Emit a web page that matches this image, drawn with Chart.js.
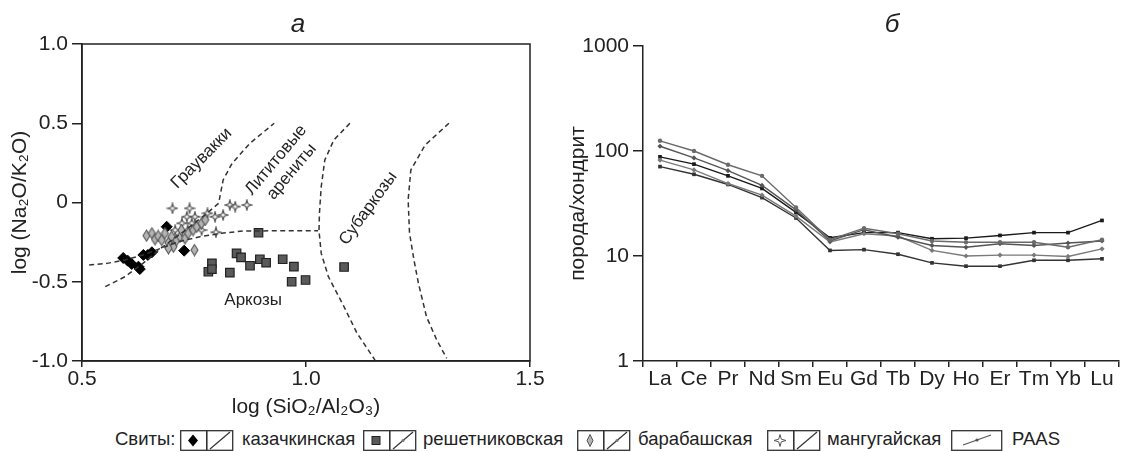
<!DOCTYPE html>
<html>
<head>
<meta charset="utf-8">
<script src="https://cdn.jsdelivr.net/npm/chart.js@4.4.0/dist/chart.umd.min.js"></script>
<style>
body { margin: 0; background: #fff; font-family: "Liberation Sans", Arial, sans-serif; color: #222; }
#wrap { position: relative; width: 1124px; height: 452px; overflow: hidden; }
.panel { position: absolute; top: 0; height: 425px; }
.lg { position: absolute; top: 429px; font-size: 18.5px; line-height: 20px; white-space: nowrap; }
.lgbox { position: absolute; top: 430px; }
</style>
</head>
<body>
<div id="wrap">
  <div class="panel" style="left:0;width:560px"><canvas id="chartA"></canvas></div>
  <div class="panel" style="left:560px;width:564px"><canvas id="chartB"></canvas></div>
  <div id="legend"></div>
</div>
<script>
// --- panel a: log(SiO2/Al2O3) vs log(Na2O/K2O) ---
const kazX = [0.592, 0.602, 0.611, 0.626, 0.629, 0.637, 0.647, 0.656, 0.689, 0.728];
const kazY = [-0.350, -0.367, -0.388, -0.405, -0.420, -0.331, -0.331, -0.314, -0.153, -0.304];

const reshX = [0.782, 0.790, 0.790, 0.830, 0.845, 0.855, 0.875, 0.897, 0.911, 0.948, 0.973, 0.968, 0.999, 0.894, 1.085];
const reshY = [-0.437, -0.384, -0.421, -0.443, -0.321, -0.346, -0.399, -0.358, -0.380, -0.358, -0.405, -0.500, -0.489, -0.191, -0.407];

const barX = [0.644, 0.656, 0.663, 0.670, 0.678, 0.685, 0.693, 0.700, 0.704, 0.711, 0.719, 0.730, 0.737, 0.748, 0.756, 0.767, 0.751, 0.693, 0.722, 0.775];
const barY = [-0.209, -0.194, -0.232, -0.211, -0.237, -0.194, -0.254, -0.216, -0.279, -0.237, -0.216, -0.226, -0.194, -0.174, -0.153, -0.131, -0.300, -0.289, -0.174, -0.110];

const mangX = [0.702, 0.740, 0.734, 0.723, 0.745, 0.708, 0.736, 0.780, 0.797, 0.815, 0.830, 0.842, 0.868, 0.799, 0.767, 0.752];
const mangY = [-0.037, -0.037, -0.090, -0.131, -0.131, -0.174, -0.174, -0.068, -0.090, -0.079, -0.016, -0.026, -0.016, -0.188, -0.174, -0.090];

// field boundaries (dashed)
const bound1X = [0.552, 0.596, 0.636, 0.676, 0.731, 0.779, 0.805, 0.810, 0.815, 0.835, 0.875, 0.929];
const bound1Y = [-0.531, -0.468, -0.384, -0.289, -0.174, -0.068, -0.005, 0.068, 0.142, 0.247, 0.374, 0.500];
const bound2X = [0.516, 0.556, 0.596, 0.636, 0.676, 0.716, 0.763, 0.811, 0.859, 0.955, 1.027];
const bound2Y = [-0.394, -0.384, -0.363, -0.331, -0.289, -0.247, -0.216, -0.194, -0.180, -0.178, -0.178];
const bound3X = [1.098, 1.062, 1.042, 1.034, 1.030, 1.029, 1.034, 1.050, 1.083, 1.114, 1.154];
const bound3Y = [0.500, 0.394, 0.268, 0.100, -0.068, -0.178, -0.321, -0.468, -0.647, -0.825, -0.994];
const bound4X = [1.319, 1.266, 1.234, 1.228, 1.231, 1.241, 1.251, 1.269, 1.292, 1.314];
const bound4Y = [0.500, 0.363, 0.205, 0.016, -0.192, -0.363, -0.510, -0.721, -0.868, -0.983];

// field names: text, x, y, angle
const fieldLabels = [
  ['Граувакки', 0.767, 0.279, -45],
  ['Лититовые', 0.933, 0.268, -50],
  ['арениты', 0.968, 0.194, -50],
  ['Субаркозы', 1.139, -0.037, -54],
  ['Аркозы', 0.882, -0.615, 0]
];

// --- panel b: REE / chondrite ---
const ree = ['La', 'Ce', 'Pr', 'Nd', 'Sm', 'Eu', 'Gd', 'Tb', 'Dy', 'Ho', 'Er', 'Tm', 'Yb', 'Lu'];
const kazRee  = [88, 75, 58, 44, 26, 14.9, 16.7, 16.7, 14.6, 14.8, 15.7, 16.7, 16.7, 21.8];
const reshRee = [71, 60, 48, 36, 23, 11.3, 11.5, 10.4, 8.6, 8.0, 8.0, 9.1, 9.1, 9.4];
const barRee  = [82, 66, 49, 38, 24, 13.6, 16.3, 15.5, 11.3, 10.0, 10.2, 10.2, 9.9, 11.7];
const mangRee = [111, 86, 65, 47, 27.5, 13.9, 17.8, 15.1, 12.6, 12.1, 13.1, 12.6, 13.3, 13.9];
const paasRee = [125, 100, 74, 58, 29, 14.3, 18.4, 16.3, 13.9, 13.5, 13.5, 13.5, 12.1, 14.3];
const logTicks = [1, 10, 100, 1000];

const FONT = '"Liberation Sans", Arial, sans-serif';
const INK = '#222';

const pts = (xs, ys) => xs.map((x, i) => ({ x, y: ys[i] }));

// small marker images
function sparkle(size, fill, stroke) {
    const c = document.createElement('canvas');
    c.width = c.height = size;
    const g = c.getContext('2d');
    const m = size / 2, r = m - 1, ri = r * 0.32;
    g.beginPath();
    for (let i = 0; i < 8; i++) {
        const a = i * Math.PI / 4 - Math.PI / 2;
        const rr = i % 2 ? ri : r;
        g.lineTo(m + rr * Math.cos(a), m + rr * Math.sin(a));
    }
    g.closePath();
    g.fillStyle = fill; g.fill();
    g.strokeStyle = stroke; g.lineWidth = 1.2; g.stroke();
    return c;
}
function tallDiamond(w, h, fill, stroke) {
    const c = document.createElement('canvas');
    c.width = w; c.height = h;
    const g = c.getContext('2d');
    g.beginPath();
    g.moveTo(w / 2, 1); g.lineTo(w - 1, h / 2); g.lineTo(w / 2, h - 1); g.lineTo(1, h / 2);
    g.closePath();
    g.fillStyle = fill; g.fill();
    g.strokeStyle = stroke; g.lineWidth = 1.1; g.stroke();
    return c;
}
const starImg = sparkle(12, '#fff', '#555');
const diaImg = tallDiamond(9, 13, '#b4b4b4', '#555');

function boundary(xs, ys) {
    return {
        data: pts(xs, ys), showLine: true, pointRadius: 0, borderColor: '#333',
        borderWidth: 1.5, borderDash: [5, 3.5], fill: false
    };
}

const frameA = {
    id: 'frameA',
    afterDraw(chart) {
        const { ctx, chartArea: a, scales } = chart;
        ctx.save();
        ctx.strokeStyle = INK;
        ctx.lineWidth = 1.5;
        ctx.strokeRect(a.left, a.top, a.right - a.left, a.bottom - a.top);
        ctx.fillStyle = INK;
        ctx.font = '17px ' + FONT;
        ctx.textAlign = 'center';
        ctx.textBaseline = 'middle';
        fieldLabels.forEach(([t, x, y, ang]) => {
            ctx.save();
            ctx.translate(scales.x.getPixelForValue(x), scales.y.getPixelForValue(y));
            ctx.rotate(ang * Math.PI / 180);
            ctx.fillText(t, 0, 0);
            ctx.restore();
        });
        ctx.font = 'italic 26px ' + FONT;
        ctx.fillText('а', 298, 25);
        ctx.restore();
    }
};

const titleB = {
    id: 'titleB',
    afterDraw(chart) {
        const ctx = chart.ctx;
        ctx.save();
        ctx.fillStyle = INK;
        ctx.font = 'italic 26px ' + FONT;
        ctx.textAlign = 'center';
        ctx.textBaseline = 'middle';
        ctx.fillText('б', 332, 25);
        ctx.restore();
    }
};

const tickFont = { family: FONT, size: 21 };
const titleFont = { family: FONT, size: 21 };

new Chart(document.getElementById('chartA'), {
    type: 'scatter',
    data: {
        datasets: [
            boundary(bound1X, bound1Y),
            boundary(bound2X, bound2Y),
            boundary(bound3X, bound3Y),
            boundary(bound4X, bound4Y),
            { label: 'барабашская', data: pts(barX, barY), pointStyle: diaImg },
            { label: 'мангугайская', data: pts(mangX, mangY), pointStyle: starImg },
            { label: 'казачкинская', data: pts(kazX, kazY), pointStyle: 'rectRot', pointRadius: 5.5,
              backgroundColor: '#000', borderColor: '#000', borderWidth: 1 },
            { label: 'решетниковская', data: pts(reshX, reshY), pointStyle: 'rect', pointRadius: 6,
              backgroundColor: '#5a5a5a', borderColor: '#222', borderWidth: 1.2 }
        ]
    },
    options: {
        animation: false,
        responsive: true,
        maintainAspectRatio: false,
        layout: { padding: { top: 44, right: 30, left: 0, bottom: 0 } },
        plugins: { legend: { display: false }, tooltip: { enabled: false } },
        scales: {
            x: {
                type: 'linear', min: 0.5, max: 1.5,
                afterFit: s => { s.height = 64; },
                ticks: { stepSize: 0.5, font: tickFont, color: INK, padding: 0, maxRotation: 0,
                         callback: v => v.toFixed(1) },
                grid: { drawOnChartArea: false, tickLength: 6, color: INK, lineWidth: 1.5 },
                border: { color: INK, width: 1.5 },
                title: { display: true, text: 'log (SiO₂/Al₂O₃)', font: titleFont, color: INK,
                         padding: { top: 0, bottom: 5 } }
            },
            y: {
                type: 'linear', min: -1, max: 1,
                afterFit: s => { s.width = 82; },
                ticks: { stepSize: 0.5, font: tickFont, color: INK, padding: 4,
                         callback: v => (v === 0 ? '0' : v.toFixed(1)) },
                grid: { drawOnChartArea: false, tickLength: 10, color: INK, lineWidth: 1.5 },
                border: { color: INK, width: 1.5 },
                title: { display: true, text: 'log (Na₂O/K₂O)', font: titleFont, color: INK,
                         padding: { top: 8, bottom: 0 } }
            }
        }
    },
    plugins: [frameA]
});

function reeLine(data, color, style, radius) {
    return {
        data, borderColor: color, backgroundColor: color, borderWidth: 1.4,
        pointStyle: style, pointRadius: radius, pointBorderWidth: 0, tension: 0, fill: false
    };
}

new Chart(document.getElementById('chartB'), {
    type: 'line',
    data: {
        labels: ree,
        datasets: [
            reeLine(paasRee, '#6a6a6a', 'circle', 2.2),
            reeLine(mangRee, '#555', 'rectRot', 2.6),
            reeLine(barRee, '#7a7a7a', 'rectRot', 2.6),
            reeLine(reshRee, '#333', 'rect', 2.6),
            reeLine(kazRee, '#1a1a1a', 'rect', 2.6)
        ]
    },
    options: {
        animation: false,
        responsive: true,
        maintainAspectRatio: false,
        layout: { padding: { top: 46, right: 5, left: 0, bottom: 0 } },
        plugins: { legend: { display: false }, tooltip: { enabled: false } },
        scales: {
            x: {
                type: 'category', offset: true,
                afterFit: s => { s.height = 64; },
                ticks: { font: tickFont, color: INK, padding: 0, autoSkip: false, maxRotation: 0 },
                grid: { offset: true, drawOnChartArea: false, tickLength: 6, color: INK, lineWidth: 1.5 },
                border: { color: INK, width: 1.5 }
            },
            y: {
                type: 'logarithmic', min: 1, max: 1000,
                afterFit: s => { s.width = 83; },
                afterBuildTicks: s => { s.ticks = logTicks.map(v => ({ value: v })); },
                ticks: { font: tickFont, color: INK, padding: 4, callback: v => String(v) },
                grid: { drawOnChartArea: false, tickLength: 10, color: INK, lineWidth: 1.5 },
                border: { color: INK, width: 1.5 },
                title: { display: true, text: 'порода/хондрит', font: titleFont, color: INK,
                         padding: { top: 6, bottom: 0 } }
            }
        }
    },
    plugins: [titleB]
});

// --- legend row ---
const legendEntries = [
    { name: 'казачкинская', box: 180, text: 242, sym: 'kaz' },
    { name: 'решетниковская', box: 363, text: 423, sym: 'resh' },
    { name: 'барабашская', box: 577, text: 638, sym: 'bar' },
    { name: 'мангугайская', box: 767, text: 827, sym: 'mang' },
    { name: 'PAAS', box: 951, text: 1012, sym: 'paas' }
];

function symbolSvg(sym) {
    const stroke = 'stroke="#333" stroke-width="1.3" fill="none"';
    if (sym === 'paas') {
        return `<svg width="52" height="21"><rect x="0.7" y="0.7" width="50" height="19.6" ${stroke}/>` +
            `<line x1="12" y1="15" x2="40" y2="5" stroke="#555" stroke-width="1.2"/>` +
            `<circle cx="26" cy="10" r="1.6" fill="#555"/></svg>`;
    }
    let mark = '';
    if (sym === 'kaz') mark = '<polygon points="13,4.5 18,10.5 13,16.5 8,10.5" fill="#000"/>';
    if (sym === 'resh') mark = '<rect x="9" y="6.5" width="8" height="8" fill="#5a5a5a" stroke="#222" stroke-width="1"/>';
    if (sym === 'bar') mark = '<polygon points="13,4.5 16,10.5 13,16.5 10,10.5" fill="#b4b4b4" stroke="#555" stroke-width="1"/>';
    if (sym === 'mang') mark = '<polygon points="13,4.5 14.3,9.2 19,10.5 14.3,11.8 13,16.5 11.7,11.8 7,10.5 11.7,9.2" fill="#fff" stroke="#555" stroke-width="1"/>';
    let dot = '';
    if (sym === 'resh' || sym === 'bar') dot = '<circle cx="40" cy="10.5" r="1.5" fill="#777"/>';
    return `<svg width="54" height="21"><rect x="0.7" y="0.7" width="26" height="19.6" ${stroke}/>` +
        `<rect x="26.7" y="0.7" width="26" height="19.6" ${stroke}/>${mark}` +
        `<line x1="30" y1="19" x2="50" y2="2" stroke="#333" stroke-width="1.2"/>${dot}</svg>`;
}

const legend = document.getElementById('legend');
let html = '<span class="lg" style="left:115px">Свиты:</span>';
legendEntries.forEach(e => {
    html += `<span class="lgbox" style="left:${e.box}px">${symbolSvg(e.sym)}</span>`;
    html += `<span class="lg" style="left:${e.text}px">${e.name}</span>`;
});
legend.innerHTML = html;
</script>
</body>
</html>
